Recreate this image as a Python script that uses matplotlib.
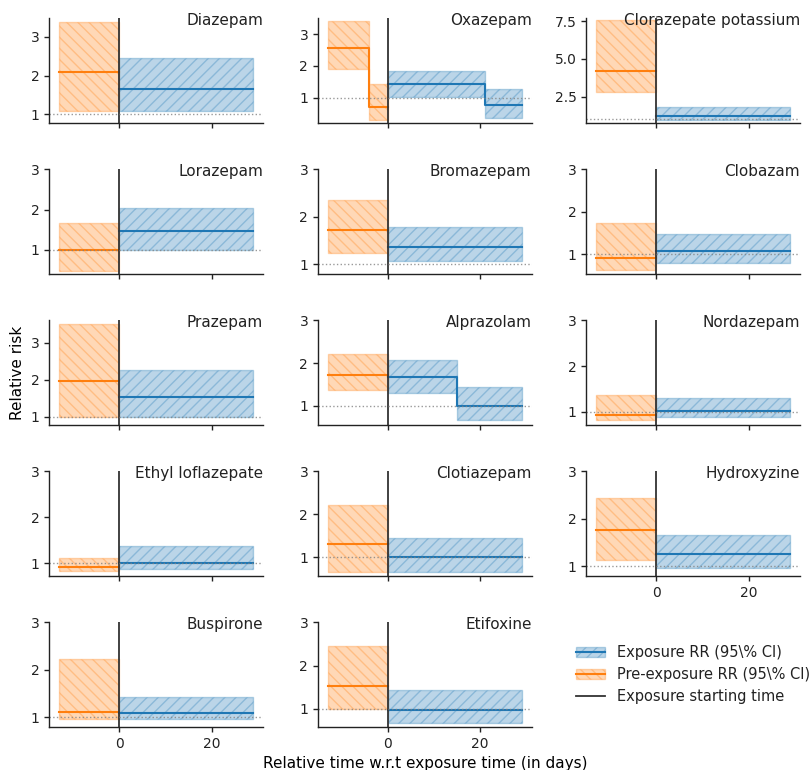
import matplotlib
matplotlib.use("Agg")
import matplotlib.pyplot as plt
from matplotlib.patches import Patch
from matplotlib.lines import Line2D
from matplotlib.ticker import MultipleLocator

# ---------------- data ----------------
drugs = ["Diazepam", "Oxazepam", "Clorazepate potassium",
         "Lorazepam", "Bromazepam", "Clobazam",
         "Prazepam", "Alprazolam", "Nordazepam",
         "Ethyl loflazepate", "Clotiazepam", "Hydroxyzine",
         "Buspirone", "Etifoxine"]

# time boundaries of the pre-exposure and exposure periods (days)
pre_bounds = [[-13, 0], [-13, -4, 0], [-13, 0],
              [-13, 0], [-13, 0], [-13, 0],
              [-13, 0], [-13, 0], [-13, 0],
              [-13, 0], [-13, 0], [-13, 0],
              [-13, 0], [-13, 0]]
exp_bounds = [[0, 29], [0, 21, 29], [0, 29],
              [0, 29], [0, 29], [0, 29],
              [0, 29], [0, 15, 29], [0, 29],
              [0, 29], [0, 29], [0, 29],
              [0, 29], [0, 29]]

pre_rr = [[2.08], [2.56, 0.70], [4.18],
          [0.99], [1.72], [0.91],
          [1.96], [1.71], [0.92],
          [0.92], [1.31], [1.76],
          [1.12], [1.53]]
pre_lo = [[1.10], [1.91, 0.29], [2.81],
          [0.47], [1.25], [0.63],
          [1.00], [1.375], [0.81],
          [0.82], [0.67], [1.14],
          [0.965], [1.00]]
pre_hi = [[3.38], [3.40, 1.43], [7.61],
          [1.66], [2.36], [1.74],
          [3.50], [2.22], [1.37],
          [1.12], [2.23], [2.44],
          [2.23], [2.45]]

exp_rr = [[1.65], [1.44, 0.77], [1.21],
          [1.47], [1.36], [1.08],
          [1.54], [1.67, 0.99], [1.01],
          [1.01], [1.01], [1.27],
          [1.10], [0.98]]
exp_lo = [[1.09], [1.03, 0.37], [0.97],
          [1.00], [1.08], [0.79],
          [1.00], [1.29, 0.66], [0.89],
          [0.88], [0.67], [0.965],
          [0.96], [0.68]]
exp_hi = [[2.45], [1.84, 1.28], [1.84],
          [2.03], [1.79], [1.47],
          [2.26], [2.07, 1.43], [1.30],
          [1.38], [1.45], [1.66],
          [1.43], [1.43]]

ylims = [(0.78, 3.47), (0.21, 3.49), (0.75, 7.68),
         (0.40, 3.0), (0.80, 3.0), (0.54, 3.0),
         (0.78, 3.60), (0.55, 3.0), (0.71, 3.0),
         (0.72, 3.0), (0.57, 3.0), (0.80, 3.0),
         (0.80, 3.0), (0.58, 3.0)]

legend_labels = ["Exposure RR (95\\% CI)", "Pre-exposure RR (95\\% CI)",
                 "Exposure starting time"]

# ---------------- style ----------------
plt.rcParams.update({
    "font.family": ["DejaVu Sans"],
    "axes.linewidth": 1.0,
    "xtick.major.width": 1.0,
    "ytick.major.width": 1.0,
    "xtick.labelsize": 10,
    "ytick.labelsize": 10,
    "text.color": "#222222",
    "xtick.color": "#222222",
    "ytick.color": "#222222",
    "axes.edgecolor": "#222222",
    "hatch.linewidth": 1.0,
})

BLUE = "C0"
ORANGE = "C1"
VLINE = "0.2"

fig, axes = plt.subplots(5, 3, figsize=(8.11, 7.70), dpi=100, sharex=True)
fig.subplots_adjust(left=0.061, right=0.9865, top=0.976, bottom=0.056,
                    wspace=0.257, hspace=0.445)


def step_arrays(bounds, vals):
    return list(bounds), list(vals) + [vals[-1]]


for i, name in enumerate(drugs):
    ax = axes.flat[i]
    # pre-exposure
    x, lo = step_arrays(pre_bounds[i], pre_lo[i])
    _, hi = step_arrays(pre_bounds[i], pre_hi[i])
    _, est = step_arrays(pre_bounds[i], pre_rr[i])
    ax.fill_between(x, lo, hi, step="post", color=ORANGE, alpha=0.3,
                    hatch="\\\\\\", linewidth=1.0)
    ax.step(x, est, where="post", color=ORANGE, lw=1.5)
    # exposure
    x, lo = step_arrays(exp_bounds[i], exp_lo[i])
    _, hi = step_arrays(exp_bounds[i], exp_hi[i])
    _, est = step_arrays(exp_bounds[i], exp_rr[i])
    ax.fill_between(x, lo, hi, step="post", color=BLUE, alpha=0.3,
                    hatch="///", linewidth=1.0)
    ax.step(x, est, where="post", color=BLUE, lw=1.5)

    ax.axvline(0, color=VLINE, lw=1.3)
    ax.axhline(1, color="gray", ls=":", lw=1.0, alpha=0.8)

    ax.set_ylim(*ylims[i])
    if name == "Clorazepate potassium":
        ax.yaxis.set_major_locator(MultipleLocator(2.5))
    else:
        ax.yaxis.set_major_locator(MultipleLocator(1))
    ax.xaxis.set_major_locator(MultipleLocator(20))
    ax.spines["top"].set_visible(False)
    ax.spines["right"].set_visible(False)
    ax.text(1.0, 0.935, name, transform=ax.transAxes, ha="right",
            va="baseline", fontsize=11, color="#222222")
    ax.tick_params(axis="x", labelbottom=False)

ax_x = axes[0, 0]
ax_x.set_xlim(-15.1, 31.1)

# x tick labels on bottom-most axes of each column
for ax in (axes[4, 0], axes[4, 1], axes[3, 2]):
    ax.tick_params(axis="x", labelbottom=True)

axes[2, 0].set_ylabel("Relative risk", fontsize=11)
axes[4, 1].set_xlabel("Relative time w.r.t exposure time (in days)",
                      fontsize=11)

# legend in empty slot
lax = axes[4, 2]
lax.axis("off")
h_exp = (Patch(facecolor=BLUE, edgecolor=BLUE, alpha=0.3, hatch="///"),
         Line2D([], [], color=BLUE, lw=1.5))
h_pre = (Patch(facecolor=ORANGE, edgecolor=ORANGE, alpha=0.3, hatch="\\\\\\"),
         Line2D([], [], color=ORANGE, lw=1.5))
h_v = Line2D([], [], color=VLINE, lw=1.3)
lax.legend([h_exp, h_pre, h_v], legend_labels, loc="center",
           frameon=False, fontsize=10.5)

fig.savefig("out.png", dpi=100)
